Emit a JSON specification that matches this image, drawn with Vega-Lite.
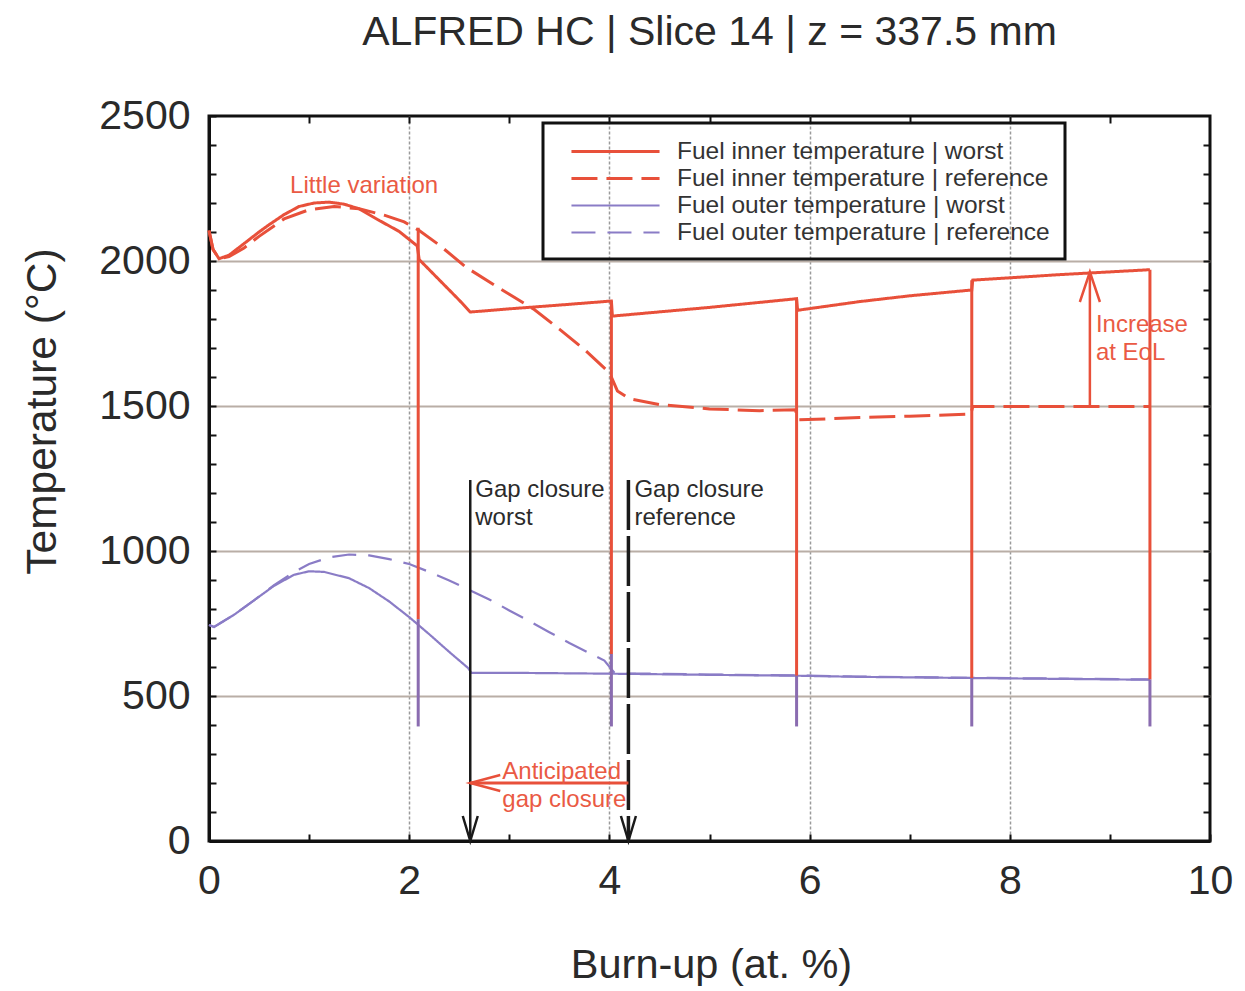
{
  "$schema": "https://vega.github.io/schema/vega-lite/v6.json",
  "width": 1001,
  "height": 725,
  "autosize": {"type": "none"},
  "padding": {"left": 209, "top": 116, "right": 35, "bottom": 150},
  "background": "white",
  "title": {"text": "ALFRED HC | Slice 14 | z = 337.5 mm", "fontSize": 41, "font": "Liberation Sans", "fontWeight": "normal", "color": "#2a2a2a", "anchor": "middle", "frame": "group", "offset": 9, "baseline": "alphabetic"},
  "datasets": {
    "curves": [
      {"series": "Fuel inner temperature | worst", "x": 0, "y": 2105},
      {"series": "Fuel inner temperature | worst", "x": 0.04, "y": 2040},
      {"series": "Fuel inner temperature | worst", "x": 0.1, "y": 2008},
      {"series": "Fuel inner temperature | worst", "x": 0.2, "y": 2020},
      {"series": "Fuel inner temperature | worst", "x": 0.35, "y": 2060},
      {"series": "Fuel inner temperature | worst", "x": 0.5, "y": 2100},
      {"series": "Fuel inner temperature | worst", "x": 0.6, "y": 2125},
      {"series": "Fuel inner temperature | worst", "x": 0.75, "y": 2160},
      {"series": "Fuel inner temperature | worst", "x": 0.9, "y": 2188},
      {"series": "Fuel inner temperature | worst", "x": 1.05, "y": 2200},
      {"series": "Fuel inner temperature | worst", "x": 1.2, "y": 2203},
      {"series": "Fuel inner temperature | worst", "x": 1.35, "y": 2196},
      {"series": "Fuel inner temperature | worst", "x": 1.5, "y": 2180},
      {"series": "Fuel inner temperature | worst", "x": 1.7, "y": 2140},
      {"series": "Fuel inner temperature | worst", "x": 1.9, "y": 2102},
      {"series": "Fuel inner temperature | worst", "x": 2.08, "y": 2052},
      {"series": "Fuel inner temperature | worst", "x": 2.1, "y": 2005},
      {"series": "Fuel inner temperature | worst", "x": 2.3, "y": 1935},
      {"series": "Fuel inner temperature | worst", "x": 2.5, "y": 1865},
      {"series": "Fuel inner temperature | worst", "x": 2.61, "y": 1824},
      {"series": "Fuel inner temperature | worst", "x": 3.0, "y": 1835},
      {"series": "Fuel inner temperature | worst", "x": 3.5, "y": 1848},
      {"series": "Fuel inner temperature | worst", "x": 4.02, "y": 1862},
      {"series": "Fuel inner temperature | worst", "x": 4.03, "y": 1810},
      {"series": "Fuel inner temperature | worst", "x": 5.0, "y": 1840},
      {"series": "Fuel inner temperature | worst", "x": 5.87, "y": 1870},
      {"series": "Fuel inner temperature | worst", "x": 5.88, "y": 1830},
      {"series": "Fuel inner temperature | worst", "x": 6.5, "y": 1860},
      {"series": "Fuel inner temperature | worst", "x": 7.0, "y": 1880},
      {"series": "Fuel inner temperature | worst", "x": 7.62, "y": 1900},
      {"series": "Fuel inner temperature | worst", "x": 7.63, "y": 1934},
      {"series": "Fuel inner temperature | worst", "x": 8.5, "y": 1953},
      {"series": "Fuel inner temperature | worst", "x": 9.4, "y": 1970},

      {"series": "Fuel inner temperature | reference", "x": 0, "y": 2105},
      {"series": "Fuel inner temperature | reference", "x": 0.04, "y": 2040},
      {"series": "Fuel inner temperature | reference", "x": 0.1, "y": 2008},
      {"series": "Fuel inner temperature | reference", "x": 0.2, "y": 2015},
      {"series": "Fuel inner temperature | reference", "x": 0.35, "y": 2045},
      {"series": "Fuel inner temperature | reference", "x": 0.5, "y": 2085},
      {"series": "Fuel inner temperature | reference", "x": 0.75, "y": 2145},
      {"series": "Fuel inner temperature | reference", "x": 1.0, "y": 2177},
      {"series": "Fuel inner temperature | reference", "x": 1.25, "y": 2188},
      {"series": "Fuel inner temperature | reference", "x": 1.5, "y": 2180},
      {"series": "Fuel inner temperature | reference", "x": 1.75, "y": 2158},
      {"series": "Fuel inner temperature | reference", "x": 1.95, "y": 2135},
      {"series": "Fuel inner temperature | reference", "x": 2.1, "y": 2105},
      {"series": "Fuel inner temperature | reference", "x": 2.3, "y": 2055},
      {"series": "Fuel inner temperature | reference", "x": 2.57, "y": 1978},
      {"series": "Fuel inner temperature | reference", "x": 3.0, "y": 1885},
      {"series": "Fuel inner temperature | reference", "x": 3.24, "y": 1835},
      {"series": "Fuel inner temperature | reference", "x": 3.5, "y": 1765},
      {"series": "Fuel inner temperature | reference", "x": 3.75, "y": 1695},
      {"series": "Fuel inner temperature | reference", "x": 4.0, "y": 1615},
      {"series": "Fuel inner temperature | reference", "x": 4.08, "y": 1552},
      {"series": "Fuel inner temperature | reference", "x": 4.2, "y": 1525},
      {"series": "Fuel inner temperature | reference", "x": 4.5, "y": 1505},
      {"series": "Fuel inner temperature | reference", "x": 5.0, "y": 1490},
      {"series": "Fuel inner temperature | reference", "x": 5.5, "y": 1484},
      {"series": "Fuel inner temperature | reference", "x": 5.86, "y": 1487},
      {"series": "Fuel inner temperature | reference", "x": 5.88, "y": 1452},
      {"series": "Fuel inner temperature | reference", "x": 6.5, "y": 1460},
      {"series": "Fuel inner temperature | reference", "x": 7.0, "y": 1465},
      {"series": "Fuel inner temperature | reference", "x": 7.61, "y": 1472},
      {"series": "Fuel inner temperature | reference", "x": 7.63, "y": 1498},
      {"series": "Fuel inner temperature | reference", "x": 8.5, "y": 1498},
      {"series": "Fuel inner temperature | reference", "x": 9.4, "y": 1498},

      {"series": "Fuel outer temperature | worst", "x": 0, "y": 745},
      {"series": "Fuel outer temperature | worst", "x": 0.05, "y": 738},
      {"series": "Fuel outer temperature | worst", "x": 0.25, "y": 780},
      {"series": "Fuel outer temperature | worst", "x": 0.45, "y": 830},
      {"series": "Fuel outer temperature | worst", "x": 0.65, "y": 880},
      {"series": "Fuel outer temperature | worst", "x": 0.85, "y": 918},
      {"series": "Fuel outer temperature | worst", "x": 1.0, "y": 930},
      {"series": "Fuel outer temperature | worst", "x": 1.15, "y": 928},
      {"series": "Fuel outer temperature | worst", "x": 1.4, "y": 906},
      {"series": "Fuel outer temperature | worst", "x": 1.6, "y": 872},
      {"series": "Fuel outer temperature | worst", "x": 1.8, "y": 826},
      {"series": "Fuel outer temperature | worst", "x": 2.0, "y": 772},
      {"series": "Fuel outer temperature | worst", "x": 2.2, "y": 713},
      {"series": "Fuel outer temperature | worst", "x": 2.4, "y": 652},
      {"series": "Fuel outer temperature | worst", "x": 2.59, "y": 596},
      {"series": "Fuel outer temperature | worst", "x": 2.62, "y": 580},
      {"series": "Fuel outer temperature | worst", "x": 3.0, "y": 580},
      {"series": "Fuel outer temperature | worst", "x": 4.0, "y": 577},
      {"series": "Fuel outer temperature | worst", "x": 5.0, "y": 573},
      {"series": "Fuel outer temperature | worst", "x": 5.87, "y": 570},
      {"series": "Fuel outer temperature | worst", "x": 6.5, "y": 566},
      {"series": "Fuel outer temperature | worst", "x": 7.62, "y": 562},
      {"series": "Fuel outer temperature | worst", "x": 8.5, "y": 559},
      {"series": "Fuel outer temperature | worst", "x": 9.4, "y": 556},

      {"series": "Fuel outer temperature | reference", "x": 0, "y": 745},
      {"series": "Fuel outer temperature | reference", "x": 0.05, "y": 738},
      {"series": "Fuel outer temperature | reference", "x": 0.25, "y": 780},
      {"series": "Fuel outer temperature | reference", "x": 0.45, "y": 830},
      {"series": "Fuel outer temperature | reference", "x": 0.65, "y": 882},
      {"series": "Fuel outer temperature | reference", "x": 0.85, "y": 928},
      {"series": "Fuel outer temperature | reference", "x": 1.0, "y": 955},
      {"series": "Fuel outer temperature | reference", "x": 1.2, "y": 978},
      {"series": "Fuel outer temperature | reference", "x": 1.4, "y": 988},
      {"series": "Fuel outer temperature | reference", "x": 1.6, "y": 985},
      {"series": "Fuel outer temperature | reference", "x": 1.8, "y": 972},
      {"series": "Fuel outer temperature | reference", "x": 2.0, "y": 955},
      {"series": "Fuel outer temperature | reference", "x": 2.2, "y": 928},
      {"series": "Fuel outer temperature | reference", "x": 2.4, "y": 898},
      {"series": "Fuel outer temperature | reference", "x": 2.6, "y": 866},
      {"series": "Fuel outer temperature | reference", "x": 2.8, "y": 833},
      {"series": "Fuel outer temperature | reference", "x": 3.0, "y": 795},
      {"series": "Fuel outer temperature | reference", "x": 3.2, "y": 758},
      {"series": "Fuel outer temperature | reference", "x": 3.4, "y": 720},
      {"series": "Fuel outer temperature | reference", "x": 3.6, "y": 683},
      {"series": "Fuel outer temperature | reference", "x": 3.8, "y": 648},
      {"series": "Fuel outer temperature | reference", "x": 3.95, "y": 622},
      {"series": "Fuel outer temperature | reference", "x": 4.05, "y": 580},
      {"series": "Fuel outer temperature | reference", "x": 4.2, "y": 578},
      {"series": "Fuel outer temperature | reference", "x": 5.0, "y": 574},
      {"series": "Fuel outer temperature | reference", "x": 5.87, "y": 571},
      {"series": "Fuel outer temperature | reference", "x": 6.5, "y": 567},
      {"series": "Fuel outer temperature | reference", "x": 7.62, "y": 563},
      {"series": "Fuel outer temperature | reference", "x": 8.5, "y": 560},
      {"series": "Fuel outer temperature | reference", "x": 9.4, "y": 557}
    ],
    "drops": [
      {"x": 2.09, "y": 2115, "y2": 765, "part": "inner"},
      {"x": 2.09, "y": 765, "y2": 395, "part": "outer"},
      {"x": 4.02, "y": 1862, "y2": 645, "part": "inner"},
      {"x": 4.02, "y": 645, "y2": 395, "part": "outer"},
      {"x": 5.87, "y": 1870, "y2": 570, "part": "inner"},
      {"x": 5.87, "y": 570, "y2": 395, "part": "outer"},
      {"x": 7.62, "y": 1934, "y2": 562, "part": "inner"},
      {"x": 7.62, "y": 562, "y2": 395, "part": "outer"},
      {"x": 9.4, "y": 1970, "y2": 557, "part": "inner"},
      {"x": 9.4, "y": 557, "y2": 395, "part": "outer"}
    ],
    "arrows": [
      {"name": "gap worst", "x": 2.61, "y": 1245, "y2": 0},
      {"name": "gap reference", "x": 4.19, "y": 1245, "y2": 0},
      {"name": "increase", "x": 8.8, "y": 1500, "y2": 1962},
      {"name": "anticipated", "x": 4.19, "x2": 2.61, "y": 200}
    ],
    "tips": [
      {"name": "gap worst", "x": 2.61, "y": 0},
      {"name": "gap reference", "x": 4.19, "y": 0},
      {"name": "increase", "x": 8.8, "y": 1962},
      {"name": "anticipated", "x": 2.61, "y": 200}
    ],
    "notes": [
      {"kind": "gap", "text": "Gap closure", "x": 2.66, "y": 1210},
      {"kind": "gap", "text": "worst", "x": 2.66, "y": 1114},
      {"kind": "gap", "text": "Gap closure", "x": 4.25, "y": 1210},
      {"kind": "gap", "text": "reference", "x": 4.25, "y": 1114},
      {"kind": "trend", "text": "Little variation", "x": 0.81, "y": 2260},
      {"kind": "trend", "text": "Anticipated", "x": 2.93, "y": 238},
      {"kind": "trend", "text": "gap closure", "x": 2.93, "y": 141},
      {"kind": "trend", "text": "Increase", "x": 8.86, "y": 1779},
      {"kind": "trend", "text": "at EoL", "x": 8.86, "y": 1683}
    ]
  },
  "encoding": {
    "x": {"field": "x", "type": "quantitative", "scale": {"domain": [0, 10], "nice": false, "zero": false}, "axis": null},
    "y": {"field": "y", "type": "quantitative", "scale": {"domain": [0, 2500], "nice": false, "zero": false}, "axis": null}
  },
  "layer": [
    {
      "data": {"name": "curves"},
      "mark": {"type": "line", "interpolate": "linear"},
      "encoding": {
        "x": {
          "field": "x", "type": "quantitative",
          "scale": {"domain": [0, 10], "nice": false, "zero": false},
          "axis": {
            "title": "Burn-up (at. %)",
            "values": [0, 1, 2, 3, 4, 5, 6, 7, 8, 9, 10],
            "labelExpr": "datum.value % 2 === 0 ? datum.label : ''",
            "format": "d",
            "tickSize": -7,
            "labelPadding": 27,
            "labelFlush": false,
            "labelOverlap": false,
            "grid": true,
            "gridOpacity": {"condition": {"test": "datum.value % 2 === 0 && datum.value > 0 && datum.value < 10", "value": 1}, "value": 0},
            "gridColor": "#9a9a9a",
            "gridDash": [3, 2],
            "gridWidth": 1.5,
            "titleX": 502,
            "titleY": 136,
            "titleFontSize": 41.5,
            "titleBaseline": "alphabetic",
            "titleAlign": "center"
          }
        },
        "y": {
          "field": "y", "type": "quantitative",
          "scale": {"domain": [0, 2500], "nice": false, "zero": false},
          "axis": {
            "title": "Temperature (°C)",
            "values": [0, 100, 200, 300, 400, 500, 600, 700, 800, 900, 1000, 1100, 1200, 1300, 1400, 1500, 1600, 1700, 1800, 1900, 2000, 2100, 2200, 2300, 2400, 2500],
            "labelExpr": "datum.value % 500 === 0 ? datum.label : ''",
            "format": "d",
            "tickSize": -7,
            "labelPadding": 26,
            "labelFlush": false,
            "labelOverlap": false,
            "grid": true,
            "gridOpacity": {"condition": {"test": "datum.value % 500 === 0 && datum.value > 0 && datum.value < 2500", "value": 1}, "value": 0},
            "gridColor": "#b9aea6",
            "gridWidth": 2,
            "titleX": -154,
            "titleY": 295,
            "titleFontSize": 42.5,
            "titleAngle": -90,
            "titleBaseline": "alphabetic",
            "titleAlign": "center"
          }
        },
        "color": {
          "field": "series", "type": "nominal",
          "scale": {"domain": ["Fuel inner temperature | worst", "Fuel inner temperature | reference", "Fuel outer temperature | worst", "Fuel outer temperature | reference"], "range": ["#e8503a", "#e8503a", "#8a7cc6", "#8a7cc6"]},
          "legend": {"title": null}
        },
        "strokeDash": {
          "field": "series", "type": "nominal",
          "scale": {"domain": ["Fuel inner temperature | worst", "Fuel inner temperature | reference", "Fuel outer temperature | worst", "Fuel outer temperature | reference"], "range": [[1, 0], [26, 9], [1, 0], [24, 12]]},
          "legend": {"title": null}
        },
        "strokeWidth": {
          "field": "series", "type": "nominal",
          "scale": {"type": "ordinal", "domain": ["Fuel inner temperature | worst", "Fuel inner temperature | reference", "Fuel outer temperature | worst", "Fuel outer temperature | reference"], "range": [3, 3, 2.2, 2.2]},
          "legend": {"title": null}
        }
      }
    },
    {
      "data": {"name": "drops"},
      "transform": [{"filter": "datum.part === 'inner'"}],
      "mark": {"type": "rule", "color": "#e8503a", "strokeWidth": 3},
      "encoding": {
        "x": {
          "field": "x", "type": "quantitative",
          "scale": {"domain": [0, 10], "nice": false, "zero": false},
          "axis": {"orient": "top", "title": null, "labels": false, "grid": false, "domain": false, "values": [1, 2, 3, 4, 5, 6, 7, 8, 9], "tickSize": -7}
        },
        "y": {
          "field": "y", "type": "quantitative",
          "scale": {"domain": [0, 2500], "nice": false, "zero": false},
          "axis": {"orient": "right", "title": null, "labels": false, "grid": false, "domain": false, "values": [100, 200, 300, 400, 500, 600, 700, 800, 900, 1000, 1100, 1200, 1300, 1400, 1500, 1600, 1700, 1800, 1900, 2000, 2100, 2200, 2300, 2400], "tickSize": -7}
        },
        "y2": {"field": "y2"}
      }
    },
    {
      "data": {"name": "drops"},
      "transform": [{"filter": "datum.part === 'outer'"}],
      "mark": {"type": "rule", "color": "#8a6cb0", "strokeWidth": 3},
      "encoding": {"y2": {"field": "y2"}}
    },
    {
      "data": {"name": "arrows"},
      "transform": [{"filter": "datum.name === 'gap worst'"}],
      "mark": {"type": "rule", "color": "#1a1a1a", "strokeWidth": 2.5},
      "encoding": {"y2": {"field": "y2"}}
    },
    {
      "data": {"name": "arrows"},
      "transform": [{"filter": "datum.name === 'gap reference'"}],
      "mark": {"type": "rule", "color": "#1a1a1a", "strokeWidth": 3.5, "strokeDash": [50, 6]},
      "encoding": {"y2": {"field": "y2"}}
    },
    {
      "data": {"name": "arrows"},
      "transform": [{"filter": "datum.name === 'increase'"}],
      "mark": {"type": "rule", "color": "#e8503a", "strokeWidth": 2.5},
      "encoding": {"y2": {"field": "y2"}}
    },
    {
      "data": {"name": "arrows"},
      "transform": [{"filter": "datum.name === 'anticipated'"}],
      "mark": {"type": "rule", "color": "#e8503a", "strokeWidth": 3},
      "encoding": {"x2": {"field": "x2"}}
    },
    {
      "data": {"name": "tips"},
      "transform": [{"filter": "datum.name === 'gap worst' || datum.name === 'gap reference'"}],
      "mark": {"type": "point", "shape": "M-0.6,-2L0,0L0.6,-2", "size": 625, "filled": false, "opacity": 1, "color": "#1a1a1a", "strokeWidth": 2.5}
    },
    {
      "data": {"name": "tips"},
      "transform": [{"filter": "datum.name === 'increase'"}],
      "mark": {"type": "point", "shape": "M-0.67,2L0,0L0.67,2", "size": 900, "filled": false, "opacity": 1, "color": "#e8503a", "strokeWidth": 2.5}
    },
    {
      "data": {"name": "tips"},
      "transform": [{"filter": "datum.name === 'anticipated'"}],
      "mark": {"type": "point", "shape": "M2,-0.53L0,0L2,0.53", "size": 900, "filled": false, "opacity": 1, "color": "#e8503a", "strokeWidth": 2.5}
    },
    {
      "data": {"name": "notes"},
      "transform": [{"filter": "datum.kind === 'gap'"}],
      "mark": {"type": "text", "align": "left", "baseline": "middle", "fontSize": 24, "font": "Liberation Sans", "color": "#2b2b2b"},
      "encoding": {"text": {"field": "text"}}
    },
    {
      "data": {"name": "notes"},
      "transform": [{"filter": "datum.kind === 'trend'"}],
      "mark": {"type": "text", "align": "left", "baseline": "middle", "fontSize": 24, "font": "Liberation Sans", "color": "#ea5a44"},
      "encoding": {"text": {"field": "text"}}
    }
  ],
  "resolve": {"axis": {"x": "independent", "y": "independent"}},
  "config": {
    "font": "Liberation Sans",
    "view": {"stroke": "#111111", "strokeWidth": 3},
    "axis": {
      "domainColor": "#111111", "domainWidth": 3,
      "tickColor": "#111111", "tickWidth": 2,
      "labelFont": "Liberation Sans", "labelFontSize": 41, "labelColor": "#2a2a2a",
      "titleFont": "Liberation Sans", "titleFontSize": 41, "titleColor": "#2a2a2a", "titleFontWeight": "normal"
    },
    "legend": {
      "orient": "none",
      "legendX": 334,
      "legendY": 7,
      "symbolType": "M-3.67,0H3.67",
      "symbolSize": 576,
      "symbolOffset": 44,
      "labelOffset": 48,
      "padding": 15,
      "rowPadding": 2,
      "labelFont": "Liberation Sans",
      "labelFontSize": 24.5,
      "labelColor": "#333333",
      "labelLimit": 600,
      "strokeColor": "#111111",
      "strokeWidth": 3
    }
  }
}
